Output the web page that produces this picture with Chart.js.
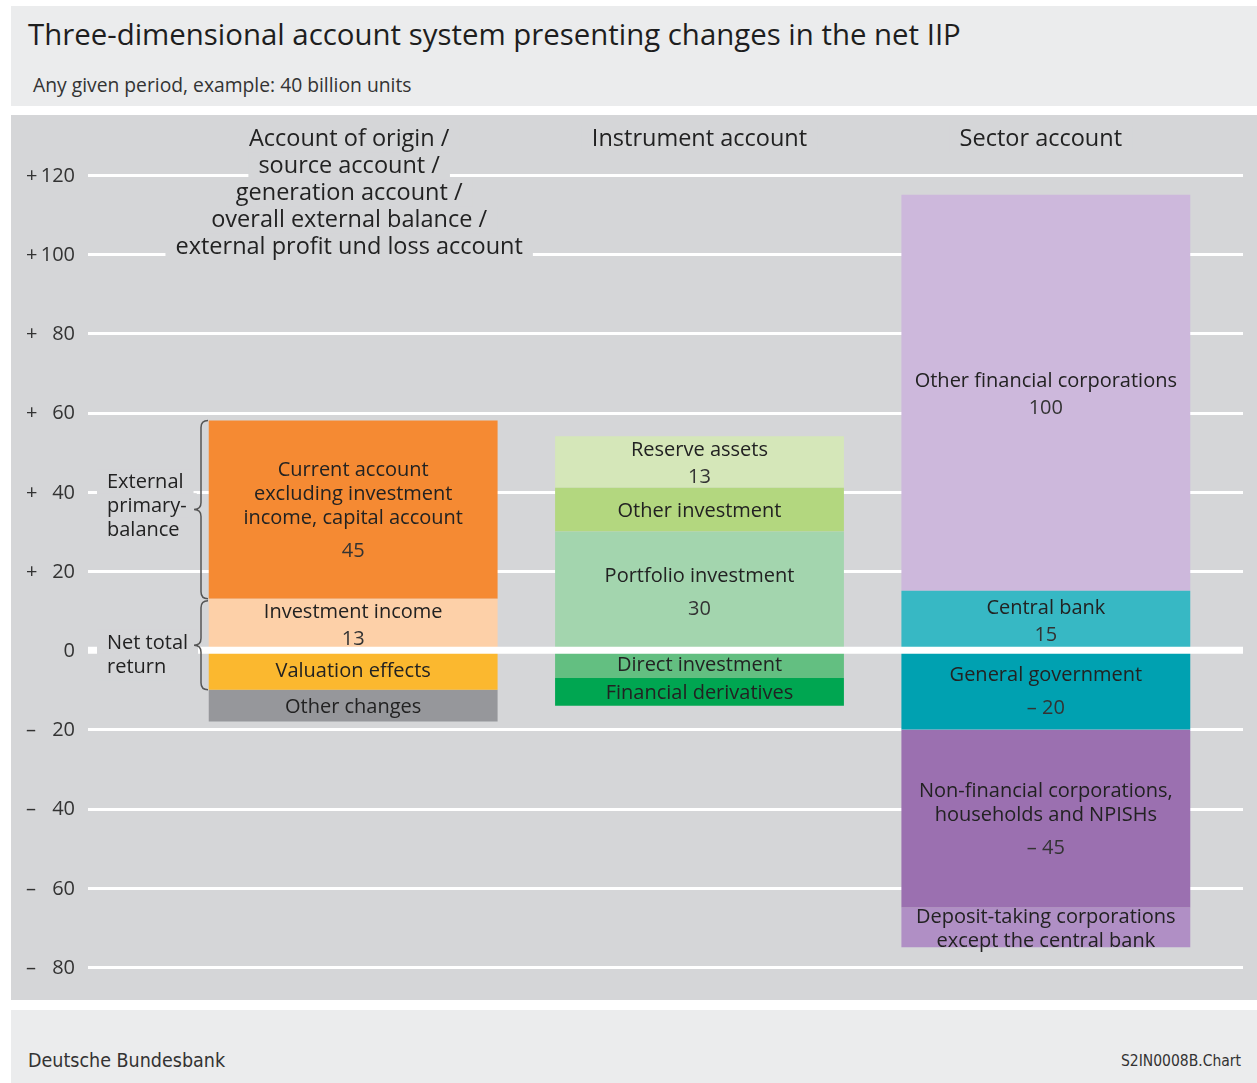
<!DOCTYPE html>
<html>
<head>
<meta charset="utf-8">
<script src="https://cdn.jsdelivr.net/npm/chart.js@4.4.1/dist/chart.umd.min.js"></script>
<style>
  html, body { margin: 0; padding: 0; background: #fff; }
  body { width: 1257px; height: 1083px; position: relative; overflow: hidden;
         font-family: "Open Sans", sans-serif; color: #222; }
  #head { position: absolute; left: 11px; top: 6px; width: 1246px; height: 100px; background: #ebeced; }
  #title { position: absolute; left: 17px; top: 8px; font-size: 29.4px; line-height: 40px; color: #1e1e1e; white-space: nowrap; }
  #sub { position: absolute; left: 22px; top: 64px; font-size: 19.3px; line-height: 30px; color: #333; white-space: nowrap; }
  #plot { position: absolute; left: 11px; top: 115px; width: 1246px; height: 885px; background: #d5d6d8; }
  #foot { position: absolute; left: 11px; top: 1010px; width: 1246px; height: 73px; background: #ebeced; }
  .cond { font-family: "Liberation Sans Narrow", "DejaVu Sans Condensed", "Open Sans", sans-serif; font-stretch: condensed; color: #333; }
  #src { position: absolute; left: 17px; top: 39px; font-size: 19.5px; line-height: 24px; }
  #code { position: absolute; right: 16px; top: 40px; font-size: 15.5px; line-height: 22px; }
</style>
</head>
<body>
<div id="head">
  <div id="title">Three-dimensional account system presenting changes in the net IIP</div>
  <div id="sub">Any given period, example: 40 billion units</div>
</div>
<div id="plot"><canvas id="chart" width="1246" height="885"></canvas></div>
<div id="foot">
  <div id="src" class="cond">Deutsche Bundesbank</div>
  <div id="code" class="cond">S2IN0008B.Chart</div>
</div>
<script>
// ── data ─────────────────────────────────────────────
const categories = ["Account of origin", "Instrument account", "Sector account"];
const categoryHeaders = [
  ["Account of origin /", "source account /", "generation account /", "overall external balance /", "external profit und loss account"],
  ["Instrument account"],
  ["Sector account"],
];
const yTicks = [120, 100, 80, 60, 40, 20, 0, -20, -40, -60, -80];

// segments listed from the zero line outwards (positives first, then negatives)
const originNames = ["Investment income", "Current account\nexcluding investment\nincome, capital account", "Valuation effects", "Other changes"];
const originValues = [13, 45, -10, -8];
const originShowValue = [true, true, false, false];
const originColors = ["#fdd0a8", "#f58a33", "#fbb82f", "#96979b"];

const instrumentNames = ["Portfolio investment", "Other investment", "Reserve assets", "Direct investment", "Financial derivatives"];
const instrumentValues = [30, 11, 13, -7, -7];
const instrumentShowValue = [true, false, true, false, false];
const instrumentColors = ["#a3d5ae", "#b3d77f", "#d5e7b9", "#63bf81", "#00a651"];

const sectorNames = ["Central bank", "Other financial corporations", "General government", "Non-financial corporations,\nhouseholds and NPISHs", "Deposit-taking corporations\nexcept the central bank"];
const sectorValues = [15, 100, -20, -45, -10];
const sectorShowValue = [true, true, true, true, false];
const sectorColors = ["#37b8c4", "#cdb8dc", "#00a1b1", "#9b70b0", "#b08fc5"];

const braces = [
  { lines: ["External", "primary-", "balance"], from: 58, to: 13 },
  { lines: ["Net total", "return"], from: 13, to: -10 },
];

// ── build datasets ───────────────────────────────────
const columns = [
  { names: originNames, values: originValues, show: originShowValue, colors: originColors },
  { names: instrumentNames, values: instrumentValues, show: instrumentShowValue, colors: instrumentColors },
  { names: sectorNames, values: sectorValues, show: sectorShowValue, colors: sectorColors },
];
const datasets = [];
columns.forEach((col, c) => {
  col.names.forEach((name, i) => {
    const data = categories.map((_, k) => (k === c ? col.values[i] : null));
    datasets.push({
      label: name,
      data,
      backgroundColor: col.colors[i],
      borderWidth: 0,
      showValue: col.show[i],
      column: c,
    });
  });
});

const FONT = "'Open Sans', sans-serif";
const fmt = (v) => (v < 0 ? "\u2013 " + Math.abs(v) : String(v));
const GRID_X0 = 77, GRID_X1 = 1232;
const BG = "#d5d6d8";

function boxedText(ctx, text, x, y, align) {
  const w = ctx.measureText(text).width;
  const left = align === "center" ? x - w / 2 : x;
  ctx.fillStyle = BG;
  ctx.fillRect(left - 10, y - 13.5, w + 20, 27);
  ctx.fillStyle = "#222";
  ctx.textAlign = align;
  ctx.fillText(text, x, y);
}

function drawBrace(ctx, x, y1, y2, r) {
  const ym = (y1 + y2) / 2;
  ctx.beginPath();
  ctx.moveTo(x + r, y1);
  ctx.quadraticCurveTo(x, y1, x, y1 + r);
  ctx.lineTo(x, ym - r);
  ctx.quadraticCurveTo(x, ym, x - r, ym);
  ctx.quadraticCurveTo(x, ym, x, ym + r);
  ctx.lineTo(x, y2 - r);
  ctx.quadraticCurveTo(x, y2, x + r, y2);
  ctx.stroke();
}

const decor = {
  id: "decor",
  beforeDatasetsDraw(chart) {
    const { ctx } = chart;
    const y = chart.scales.y;
    ctx.save();
    ctx.strokeStyle = "#fff";
    ctx.lineWidth = 3;
    yTicks.forEach((t) => {
      if (t === 0) return;
      const py = Math.round(y.getPixelForValue(t)) + 0.5;
      ctx.beginPath();
      ctx.moveTo(GRID_X0, py);
      ctx.lineTo(GRID_X1, py);
      ctx.stroke();
    });
    ctx.fillStyle = "#333";
    ctx.font = "20px " + FONT;
    ctx.textBaseline = "middle";
    yTicks.forEach((t) => {
      const py = y.getPixelForValue(t) + 1;
      ctx.textAlign = "right";
      ctx.fillText(String(Math.abs(t)), 64, py);
      if (t !== 0) {
        ctx.textAlign = "left";
        ctx.fillText(t > 0 ? "+" : "\u2013", 15, py);
      }
    });
    ctx.restore();
  },
  afterDatasetsDraw(chart) {
    const { ctx } = chart;
    const x = chart.scales.x, y = chart.scales.y;
    ctx.save();
    // zero line on top of the bars
    ctx.strokeStyle = "#fff";
    ctx.lineWidth = 7;
    const y0 = y.getPixelForValue(0);
    ctx.beginPath();
    ctx.moveTo(GRID_X0, y0);
    ctx.lineTo(GRID_X1, y0);
    ctx.stroke();

    ctx.textBaseline = "middle";
    // column headers
    ctx.font = "23.5px " + FONT;
    const headerShift = [-4, 0, -5];
    categoryHeaders.forEach((lines, c) => {
      const cx = x.getPixelForValue(c) + headerShift[c];
      lines.forEach((ln, j) => boxedText(ctx, ln, cx, 24 + j * 27, "center"));
    });

    // braces and their captions
    ctx.font = "20px " + FONT;
    braces.forEach((b, k) => {
      const y1 = y.getPixelForValue(b.from) + (k === 0 ? 0 : 2);
      const y2 = y.getPixelForValue(b.to);
      const ym = (y1 + y2) / 2;
      const start = k === 0 ? ym - 27 : ym - 2;
      b.lines.forEach((ln, j) => boxedText(ctx, ln, 96, start + j * 24, "left"));
      ctx.strokeStyle = "#555";
      ctx.lineWidth = 1.5;
      drawBrace(ctx, 190, y1, y2, 7);
    });

    // segment labels
    chart.data.datasets.forEach((ds, di) => {
      const bar = chart.getDatasetMeta(di).data[ds.column];
      if (!bar) return;
      const top = Math.min(bar.y, bar.base), bot = Math.max(bar.y, bar.base);
      const h = bot - top;
      const cy = (top + bot) / 2 + 1.5;
      const lines = ds.label.split("\n");
      const gap = h > 70 && h < 300 ? 33 : 27;
      const total = (lines.length - 1) * 24 + (ds.showValue ? gap : 0);
      const ly = cy - total / 2;
      ctx.textAlign = "center";
      ctx.fillStyle = "#222";
      lines.forEach((ln, j) => ctx.fillText(ln, bar.x, ly + j * 24));
      if (ds.showValue) {
        ctx.fillStyle = "#333";
        ctx.fillText(fmt(ds.data[ds.column]), bar.x, ly + (lines.length - 1) * 24 + gap);
      }
    });
    ctx.restore();
  },
};

new Chart(document.getElementById("chart"), {
  type: "bar",
  data: { labels: categories, datasets },
  options: {
    responsive: false,
    animation: false,
    events: [],
    categoryPercentage: 1,
    barPercentage: 0.834,
    layout: { padding: { left: 169, right: 38, top: 0, bottom: 0 } },
    plugins: { legend: { display: false }, tooltip: { enabled: false } },
    scales: {
      x: { stacked: true, display: false },
      y: { stacked: true, display: false, min: -88.33, max: 135.15 },
    },
  },
  plugins: [decor],
});
</script>
</body>
</html>
